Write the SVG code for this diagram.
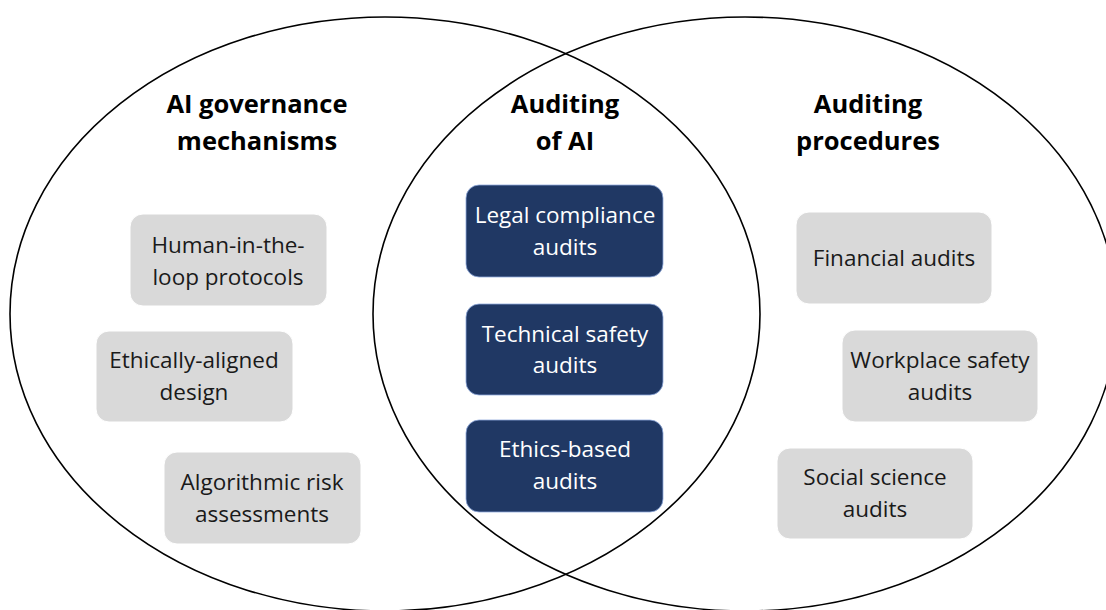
<svg xmlns="http://www.w3.org/2000/svg" width="1106" height="610" viewBox="0 0 1106 610">
<style>
.ring{fill:none;stroke:#000;stroke-width:1.6}
.title{font-family:"Open Sans","Liberation Sans",sans-serif;font-weight:bold;font-size:25.5px;fill:#000;text-anchor:middle}
.gbox{fill:#d9d9d9;stroke:#ffffff;stroke-width:1}
.dbox{fill:#203864;stroke:#8faadc;stroke-width:0.8}
.gt{font-family:"Open Sans","Liberation Sans",sans-serif;font-size:22.5px;fill:#1a1a1a;text-anchor:middle}
.dt{font-family:"Open Sans","Liberation Sans",sans-serif;font-size:22.5px;fill:#ffffff;text-anchor:middle}
</style>
<rect width="1106" height="610" fill="#ffffff"/>
<g id="sets">
<ellipse id="set-left" class="ring" cx="385" cy="314" rx="375" ry="297"/>
<ellipse id="set-right" class="ring" cx="745" cy="314" rx="372" ry="297"/>
</g>
<g id="titles">
<text class="title" x="257" y="113">AI governance</text>
<text class="title" x="257" y="150">mechanisms</text>
<text class="title" x="565" y="113">Auditing</text>
<text class="title" x="565" y="150">of AI</text>
<text class="title" x="868" y="113">Auditing</text>
<text class="title" x="868" y="150">procedures</text>
</g>
<g id="node-human">
<rect class="gbox" x="130" y="214" width="197" height="92" rx="13"/>
<text class="gt" x="228" y="253">Human-in-the-</text>
<text class="gt" x="228" y="285">loop protocols</text>
</g>
<g id="node-ethically">
<rect class="gbox" x="96" y="331" width="197" height="91" rx="13"/>
<text class="gt" x="194" y="368">Ethically-aligned</text>
<text class="gt" x="194" y="400">design</text>
</g>
<g id="node-algorithmic">
<rect class="gbox" x="164" y="452" width="197" height="92" rx="13"/>
<text class="gt" x="262" y="490">Algorithmic risk</text>
<text class="gt" x="262" y="522">assessments</text>
</g>
<g id="node-legal">
<rect class="dbox" x="466" y="185" width="197" height="92" rx="13"/>
<text class="dt" x="565" y="223">Legal compliance</text>
<text class="dt" x="565" y="255">audits</text>
</g>
<g id="node-technical">
<rect class="dbox" x="466" y="304" width="197" height="91" rx="13"/>
<text class="dt" x="565" y="342">Technical safety</text>
<text class="dt" x="565" y="373">audits</text>
</g>
<g id="node-ethics">
<rect class="dbox" x="466" y="420" width="197" height="92" rx="13"/>
<text class="dt" x="565" y="457">Ethics-based</text>
<text class="dt" x="565" y="489">audits</text>
</g>
<g id="node-financial">
<rect class="gbox" x="796" y="212" width="196" height="92" rx="13"/>
<text class="gt" x="894" y="266">Financial audits</text>
</g>
<g id="node-workplace">
<rect class="gbox" x="842" y="330" width="196" height="92" rx="13"/>
<text class="gt" x="940" y="368">Workplace safety</text>
<text class="gt" x="940" y="400">audits</text>
</g>
<g id="node-social">
<rect class="gbox" x="777" y="448" width="196" height="91" rx="13"/>
<text class="gt" x="875" y="485">Social science</text>
<text class="gt" x="875" y="517">audits</text>
</g>
<g id="connectors"></g>
</svg>
